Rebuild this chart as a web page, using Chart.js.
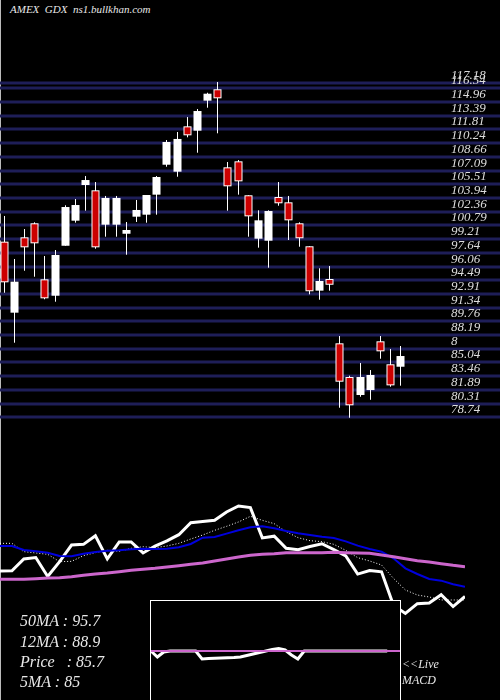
<!DOCTYPE html>
<html><head><meta charset="utf-8">
<script src="https://cdn.jsdelivr.net/npm/chart.js@4.4.0/dist/chart.umd.min.js"></script>
<style>
html,body{margin:0;padding:0;background:#000;width:500px;height:700px;overflow:hidden;position:relative}
canvas{position:absolute}
.t{position:absolute;color:#e8e8e8;font-family:"Liberation Serif","DejaVu Serif",serif;font-style:italic;white-space:pre}
#lb{position:absolute;left:0;top:0;width:1px;height:700px;background:#bbb}
#box{position:absolute;left:150px;top:600px;width:249px;height:110px;border:1px solid #fff;background:#000}
</style></head><body>
<div id="lb"></div>
<div class="t" style="left:10px;top:3px;font-size:11px">AMEX  GDX  ns1.bullkhan.com</div>
<div style="position:absolute;left:0;top:0;width:500px;height:430px"><canvas id="pc" width="500" height="430"></canvas></div>
<div style="position:absolute;left:0;top:490px;width:465px;height:210px"><canvas id="mc" width="465" height="210"></canvas></div>
<div id="box"><canvas id="dc" width="249" height="100"></canvas></div>
<div class="t" style="left:20px;top:612px;font-size:16px">50MA : 95.7</div>
<div class="t" style="left:20px;top:633px;font-size:16px">12MA : 88.9</div>
<div class="t" style="left:20px;top:653px;font-size:16px">Price   : 85.7</div>
<div class="t" style="left:20px;top:673px;font-size:16px">5MA : 85</div>
<div class="t" style="left:402px;top:657px;font-size:12px">&lt;&lt;Live</div>
<div class="t" style="left:402px;top:673px;font-size:12px">MACD</div>
<script>
const opens  = [98.92,90.76,99.42,101.03,94.59,92.71,98.45,101.33,105.43,104.82,100.87,100.87,99.83,101.79,102.02,104.32,107.76,106.96,112.17,111.67,115.12,116.43,107.46,108.15,104.25,99.26,99.03,104.05,103.44,101.03,98.39,93.29,94.63,87.24,83.37,81.30,81.87,87.47,84.83,84.55];
const closes = [94.25,94.32,98.27,98.73,92.41,97.39,102.90,103.13,106.00,98.27,103.94,103.94,100.26,102.56,104.28,106.35,110.37,110.72,111.14,113.93,115.92,115.39,105.28,105.85,101.83,101.37,102.44,103.33,101.37,99.31,93.22,94.40,93.97,82.83,80.12,83.37,83.60,86.32,82.41,85.78];
const highs  = [101.87,96.93,100.37,101.14,97.27,97.96,103.10,103.82,106.46,105.77,104.17,104.17,101.18,103.71,104.28,106.46,110.60,111.52,113.24,114.16,116.03,117.26,108.07,108.30,104.25,102.52,102.52,105.77,104.17,101.14,98.39,95.86,96.12,88.08,83.52,84.98,84.17,88.08,86.59,86.93];
const lows   = [93.05,87.31,95.58,94.89,92.30,92.02,98.45,101.10,102.48,98.11,99.49,99.49,97.42,101.18,101.10,102.02,107.53,106.38,110.91,109.14,114.31,111.37,102.48,104.32,99.49,98.23,95.93,103.05,99.11,98.34,92.87,92.25,93.29,79.84,78.69,81.10,80.75,85.47,82.25,82.37];
const ma5  = [103.47,103.47,100.70,100.25,99.81,97.36,97.47,99.36,100.36,101.14,100.81,101.81,102.36,102.03,102.59,103.47,104.92,106.25,107.81,109.14,110.59,112.48,111.14,110.03,107.36,105.36,104.36,104.03,103.14,101.14,98.70,97.59,96.25,91.81,87.92,86.25,85.59,84.59,84.59,84.59];
const ma12 = [102.59,102.59,101.25,100.81,100.36,99.25,99.14,100.03,100.59,101.03,101.14,101.48,101.70,101.59,101.70,102.14,103.25,105.36,105.59,106.70,107.81,108.81,109.14,108.48,107.59,106.81,106.25,105.70,105.25,104.14,102.70,101.59,100.70,98.48,95.14,93.25,91.59,91.03,89.81,89.03];
const ma50 = [91.47,91.47,91.47,91.70,91.92,92.03,92.36,92.81,93.25,93.59,94.03,94.48,94.81,95.14,95.59,96.03,96.47,96.92,97.59,98.25,98.92,99.48,99.81,100.03,100.36,100.36,100.36,100.36,100.47,100.36,100.25,100.14,99.59,99.03,98.36,97.70,97.25,96.70,96.14,95.70];
const macd = [0,-0.6,-0.1,0,0,0,0,0,-0.8,-0.75,-0.72,-0.7,-0.68,-0.65,-0.6,-0.45,-0.3,-0.15,0,0.15,0.25,0.1,-0.4,-0.8,0,0,0,0,0,0,0,0,0,0,0,0,0,0,null,null];
const signal = [0,0,0,0,0,0,0,0,0,0,0,0,0,0,0,0,0,0,0,0,0,0,0,0,0,0,0,0,0,0,0,0,0,0,0,0,0,0,0,0];
const tickVals = [117.18,116.54,114.96,113.39,111.81,110.24,108.66,107.09,105.51,103.94,102.36,100.79,99.21,97.64,96.06,94.49,92.91,91.34,89.76,88.19,86.61,85.04,83.46,81.89,80.31,78.74];
const tickLabels = ["117.18","116.54","114.96","113.39","111.81","110.24","108.66","107.09","105.51","103.94","102.36","100.79","99.21","97.64","96.06","94.49","92.91","91.34","89.76","88.19","8","85.04","83.46","81.89","80.31","78.74"];

const idx = closes.map((_,i)=>i);
const pts = a => a.map((v,i)=>({x:i,y:v}));

const candlePlugin = {
  id:'candles',
  beforeDatasetsDraw(ch){
    const c=ch.ctx, ys=ch.scales.y;
    c.save();
    c.strokeStyle='#1e1e58'; c.lineWidth=3;
    tickVals.forEach(v=>{const y=Math.round(ys.getPixelForValue(v));c.beginPath();c.moveTo(0,y);c.lineTo(500,y);c.stroke();});
    c.fillStyle='#dddddd'; c.font='italic 13px "Liberation Serif", serif'; c.textBaseline='alphabetic';
    tickVals.forEach((v,i)=>{const y=ys.getPixelForValue(v);c.fillText(tickLabels[i],451,y-4);});
    c.restore();
  },
  afterDatasetsDraw(ch){
    const c=ch.ctx, xs=ch.scales.x, ys=ch.scales.y;
    c.save();
    for(let i=0;i<closes.length;i++){
      const x=Math.round(xs.getPixelForValue(i))+0.5;
      const yo=ys.getPixelForValue(opens[i]), yc=ys.getPixelForValue(closes[i]);
      const yh=ys.getPixelForValue(highs[i]), yl=ys.getPixelForValue(lows[i]);
      c.strokeStyle='#fff'; c.lineWidth=1;
      c.beginPath(); c.moveTo(x,yh); c.lineTo(x,yl); c.stroke();
      const top=Math.min(yo,yc), h=Math.max(Math.abs(yc-yo),2);
      const up=closes[i]>=opens[i];
      c.fillStyle='#fff'; c.fillRect(x-4,top,8,h);
      if(!up){ c.fillStyle='#cc0000'; c.fillRect(x-3,top+1,6,Math.max(h-2,1)); }
    }
    c.restore();
  }
};

new Chart(document.getElementById('pc'),{
  type:'scatter',
  data:{datasets:[{data:pts(closes),pointRadius:0,showLine:false}]},
  options:{responsive:false,animation:false,events:[],
    layout:{padding:0},
    plugins:{legend:{display:false},tooltip:{enabled:false}},
    scales:{x:{type:'linear',display:false,min:-0.364,max:48.8},
            y:{type:'linear',display:false,min:77.28,max:126.686}}},
  plugins:[candlePlugin]
});

new Chart(document.getElementById('mc'),{
  type:'line',
  data:{labels:idx,datasets:[
    {data:pts(ma50),borderColor:'#cc66cc',borderWidth:3,pointRadius:0,tension:0},
    {data:pts(ma12),borderColor:'#0000dd',borderWidth:2,pointRadius:0,tension:0},
    {data:pts(ma5),borderColor:'#ffffff',borderWidth:1,borderDash:[1,2],pointRadius:0,tension:0},
    {data:pts(closes),borderColor:'#ffffff',borderWidth:3,pointRadius:0,tension:0}
  ]},
  options:{responsive:false,animation:false,events:[],layout:{padding:0},
    plugins:{legend:{display:false},tooltip:{enabled:false}},
    scales:{x:{type:'linear',display:false,min:0,max:39},
            y:{type:'linear',display:false,min:51.25,max:121.25}}}
});

new Chart(document.getElementById('dc'),{
  type:'line',
  data:{labels:idx,datasets:[
    {data:pts(signal),borderColor:'#cc66cc',borderWidth:2,pointRadius:0,tension:0},
    {data:pts(macd),borderColor:'#ffffff',borderWidth:3,pointRadius:0,tension:0}
  ]},
  options:{responsive:false,animation:false,events:[],layout:{padding:0},
    plugins:{legend:{display:false},tooltip:{enabled:false}},
    scales:{x:{type:'linear',display:false,min:0,max:39},
            y:{type:'linear',display:false,min:-5,max:5}}}
});
</script>
</body></html>
